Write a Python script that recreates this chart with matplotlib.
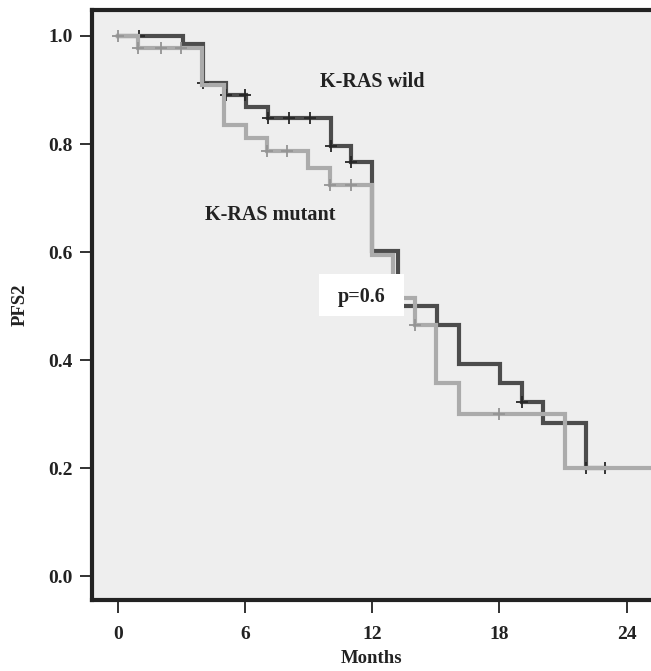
import matplotlib
matplotlib.use('Agg')
import matplotlib.pyplot as plt
import numpy as np
from matplotlib.patches import Rectangle

plt.rcParams['font.family'] = ['Liberation Serif', 'DejaVu Serif']
plt.rcParams['font.weight'] = 'bold'

# Kaplan-Meier steps (months, survival)
wild_t = [0, 3.05, 4.0, 5.1, 6.05, 7.1, 10.05, 11.0, 12.0, 13.2, 15.05, 16.1,
          18.05, 19.05, 20.05, 22.1]
wild_s = [1.0, 0.985, 0.913, 0.89, 0.868, 0.849, 0.796, 0.767, 0.602, 0.50,
          0.465, 0.393, 0.357, 0.322, 0.283, 0.20]
wild_end = 23.0
wild_cens = [1.0, 4.0, 5.1, 6.0, 7.1, 8.05, 9.05, 10.05, 11.0, 19.05, 22.1, 23.0]

mut_t = [0, 0.95, 3.95, 5.0, 6.05, 7.05, 8.95, 10.0, 12.0, 13.0, 14.0, 15.0,
         16.1, 21.1]
mut_s = [1.0, 0.978, 0.909, 0.835, 0.812, 0.787, 0.756, 0.725, 0.595, 0.515,
         0.465, 0.357, 0.30, 0.20]
mut_end = 25.5
mut_cens = [0.0, 0.95, 2.05, 3.0, 7.05, 8.0, 10.0, 11.0, 14.0, 18.0]

xticks = [0, 6, 12, 18, 24]
yticks = [0.0, 0.2, 0.4, 0.6, 0.8, 1.0]


def surv_at(times, surv, t):
    idx = np.searchsorted(times, t, side='right') - 1
    return np.asarray(surv)[idx]


fig = plt.figure(figsize=(6.51, 6.71), dpi=100)
ax = fig.add_axes([0.142, 0.1058, 0.858, 0.88])
ax.set_facecolor('#eeeeee')

dark = '#4c4c4c'
light = '#ababab'

ax.step(wild_t + [wild_end], wild_s + [wild_s[-1]], where='post',
        color=dark, lw=3, zorder=2, solid_joinstyle='miter')
ax.plot(wild_cens, surv_at(wild_t, wild_s, wild_cens), '+', color='#262626',
        ms=8.5, mew=1.3, zorder=3)

ax.step(mut_t + [mut_end], mut_s + [mut_s[-1]], where='post',
        color=light, lw=3, zorder=4, solid_joinstyle='miter')
ax.plot(mut_cens, surv_at(mut_t, mut_s, mut_cens), '+', color='#949494',
        ms=8.5, mew=1.3, zorder=5)

ax.text(12.0, 0.914, 'K-RAS wild', ha='center', va='center', fontsize=14.5,
        fontweight='bold', color='#222222')
ax.text(7.2, 0.669, 'K-RAS mutant', ha='center', va='center', fontsize=14.5,
        fontweight='bold', color='#222222')

ax.add_patch(Rectangle((9.5, 0.481), 4.0, 0.078, facecolor='white',
                       edgecolor='none', zorder=6))
ax.text(11.5, 0.516, 'p=0.6', ha='center', va='center', fontsize=14.5,
        fontweight='bold', color='#222222', zorder=7)

ax.set_xlim(-1.2, 25.15)
ax.set_ylim(-0.044, 1.049)
ax.set_xticks(xticks)
ax.set_yticks(yticks)
ax.set_yticklabels([f'{v:.1f}' for v in yticks])

for side in ['left', 'top', 'bottom']:
    ax.spines[side].set_linewidth(3)
    ax.spines[side].set_color('#222222')
ax.spines['right'].set_visible(False)

ax.tick_params(axis='both', direction='out', length=9, width=1.3,
               color='#222222', labelsize=14, labelcolor='#222222')
ax.tick_params(axis='x', pad=10)
ax.tick_params(axis='y', pad=5)

ax.set_xlabel('Months', fontsize=13.5, fontweight='bold', labelpad=5,
              color='#222222')
ax.set_ylabel('PFS2', fontsize=13.5, fontweight='bold', labelpad=14,
              color='#222222')

fig.savefig('out.png', dpi=100)
